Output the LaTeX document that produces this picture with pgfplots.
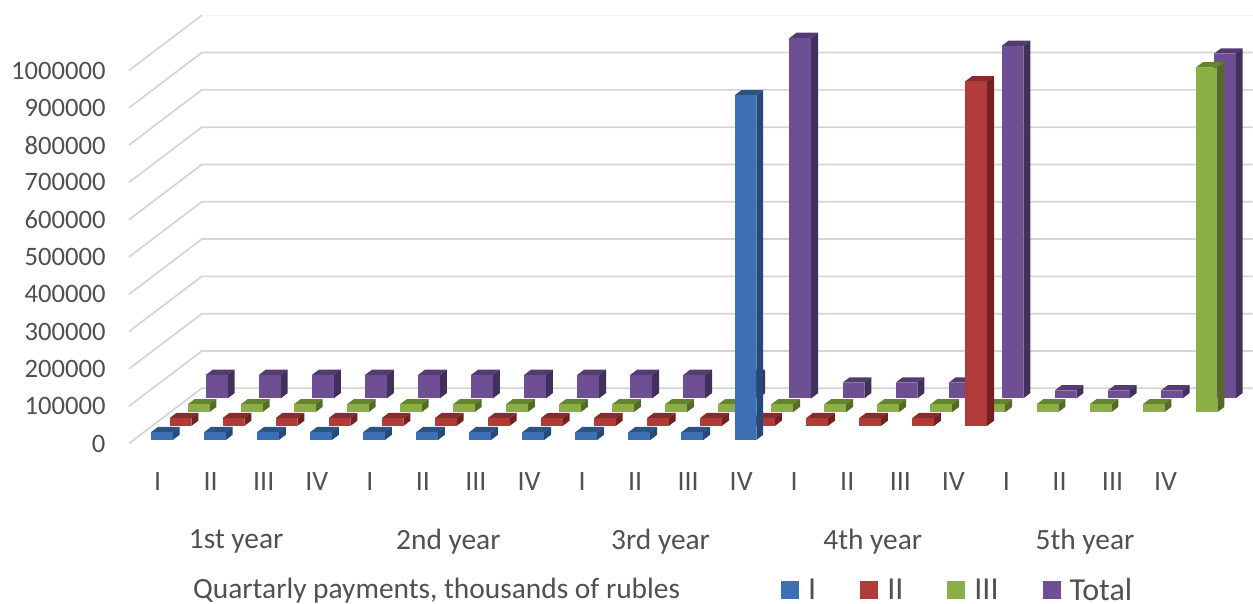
\documentclass[border=0pt]{standalone}
\usepackage{pgfplots}
\usepackage{pgfplotstable}
\usepackage{fontspec}
\setmainfont{Carlito}
\pgfplotsset{compat=1.18}

\definecolor{txt}{HTML}{505050}
\definecolor{gridc}{HTML}{D4D4D4}
\definecolor{blueF}{HTML}{3D6FB4}
\definecolor{blueS}{HTML}{254A7A}
\definecolor{blueT}{HTML}{2B5386}
\definecolor{redF}{HTML}{B13B38}
\definecolor{redS}{HTML}{752020}
\definecolor{redT}{HTML}{852D2A}
\definecolor{greenF}{HTML}{8BAE45}
\definecolor{greenS}{HTML}{546B28}
\definecolor{greenT}{HTML}{64842F}
\definecolor{purpleF}{HTML}{6F4F94}
\definecolor{purpleS}{HTML}{412F5C}
\definecolor{purpleT}{HTML}{543B73}

% Quarterly payments over five years, one row per quarter
\pgfplotstableread{
k I II III Total
0 21000 21000 21000 63000
1 21000 21000 21000 63000
2 21000 21000 21000 63000
3 21000 21000 21000 63000
4 21000 21000 21000 63000
5 21000 21000 21000 63000
6 21000 21000 21000 63000
7 21000 21000 21000 63000
8 21000 21000 21000 63000
9 21000 21000 21000 63000
10 21000 21000 21000 63000
11 924000 21000 21000 966000
12 0 21000 21000 42000
13 0 21000 21000 42000
14 0 21000 21000 42000
15 0 924000 21000 945000
16 0 0 21000 21000
17 0 0 21000 21000
18 0 0 21000 21000
19 0 0 924000 924000
}\payments

% One cuboid: category, depth position, column name, colour stem
\newcommand\cuboid[4]{%
  \pgfplotstablegetelem{#1}{#3}\of\payments
  \begingroup
    \pgfkeys{/pgf/fpu,/pgf/fpu/output format=fixed}%
    \pgfmathparse{\pgfplotsretval/1000}%
    \global\let\barh\pgfmathresult
  \endgroup
  \pgfmathsetmacro\xa{#1+0.328}%
  \pgfmathsetmacro\xb{#1+0.738}%
  \pgfmathsetmacro\ya{#2}%
  \pgfmathsetmacro\yb{#2+0.384}%
  \ifdim\barh pt>0pt
    \addplot3[forget plot,no marks,draw=none,fill=#4T]
      coordinates {(\xa,\ya,\barh) (\xb,\ya,\barh) (\xb,\yb,\barh) (\xa,\yb,\barh)};
    \addplot3[forget plot,no marks,draw=none,fill=#4S]
      coordinates {(\xb,\ya,0) (\xb,\yb,0) (\xb,\yb,\barh) (\xb,\ya,\barh)};
    \addplot3[forget plot,no marks,draw=none,fill=#4F]
      coordinates {(\xa,\ya,0) (\xb,\ya,0) (\xb,\ya,\barh) (\xa,\ya,\barh)};
  \fi
}

\begin{document}
\begin{tikzpicture}[x=1pt,y=1pt]
\useasboundingbox (0,0) rectangle (1253,604);
\begin{axis}[
  at={(129pt,160.5pt)},
  anchor=origin,
  x={(53.05pt,0pt)},
  y={(18.2pt,13.8pt)},
  z={(0pt,0.373pt)},
  xmin=0, xmax=19.81,
  ymin=0, ymax=4,
  zmin=0, zmax=1000,
  clip=false,
  axis line style={draw=none},
  major tick style={draw=none},
  ytick=\empty,
  ztick={0,100,...,1000},
  zticklabels={0,100000,200000,300000,400000,500000,600000,700000,800000,900000,1000000},
  xtick={0.54,1.54,...,19.54},
  xticklabels={I,II,III,IV,I,II,III,IV,I,II,III,IV,I,II,III,IV,I,II,III,IV},
  extra x ticks={2.02,6.02,10.02,14.02,18.02},
  extra x tick labels={1st year,2nd year,3rd year,4th year,5th year},
  extra x tick style={xticklabel style={yshift=-60pt,font=\fontsize{29.4}{29.4}\selectfont}},
  xticklabel style={anchor=center,yshift=-38pt,font=\fontsize{28}{28}\selectfont,text=txt},
  zticklabel style={anchor=east,xshift=-20pt,font=\fontsize{26.6}{26.6}\selectfont,text=txt},
  legend columns=4,
  legend cell align=left,
  legend image code/.code={\fill[#1,draw=none] (0pt,-9pt) rectangle (18pt,9pt);},
  legend style={at={(axis cs:12.29,0,-393)},anchor=west,draw=none,fill=none,inner sep=0pt,
    font=\fontsize{32}{32}\selectfont,text=txt,
    nodes={inner sep=1pt},
    /tikz/every odd column/.append style={column sep=8pt},
    /tikz/every even column/.append style={column sep=43pt}},
]
% Walls: each level runs back along the side wall, then across the rear wall
\pgfplotsinvokeforeach{0,100,...,900}{
  \addplot3[forget plot,no marks,color=gridc,line width=1.7pt]
    coordinates {(0,0,#1) (0,4,#1) (19.81,4,#1)};
}
\addplot3[forget plot,no marks,color=gridc,line width=1.7pt]
  coordinates {(0,0,1000) (0,4,1000)};
\addplot3[forget plot,no marks,color=gridc!20,line width=1pt]
  coordinates {(0,4,1000) (19.81,4,1000)};

% Rear series first, so that nearer bars cover them
\pgfplotsforeachungrouped \k in {0,...,19}{\cuboid{\k}{3.27}{Total}{purple}}
\pgfplotsforeachungrouped \k in {0,...,19}{\cuboid{\k}{2.27}{III}{green}}
\pgfplotsforeachungrouped \k in {0,...,19}{\cuboid{\k}{1.27}{II}{red}}
\pgfplotsforeachungrouped \k in {0,...,19}{\cuboid{\k}{0.25}{I}{blue}}

\addlegendimage{fill=blueF}\addlegendentry{I}
\addlegendimage{fill=redF}\addlegendentry{II}
\addlegendimage{fill=greenF}\addlegendentry{III}
\addlegendimage{fill=purpleF}\addlegendentry{Total}

\node[anchor=west,text=txt,inner sep=0pt,font=\fontsize{29.4}{29.4}\selectfont]
  at (axis cs:1.205,0,-394) {Quartarly payments, thousands of rubles};
\end{axis}
\end{tikzpicture}
\end{document}
